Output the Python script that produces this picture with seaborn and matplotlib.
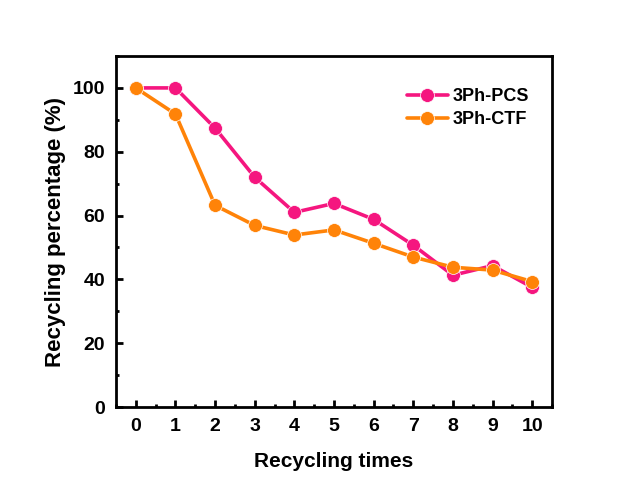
import pandas as pd
import matplotlib
matplotlib.use("Agg")
import matplotlib.pyplot as plt
import seaborn as sns
from matplotlib.ticker import MultipleLocator

# --- Data ---
cycles = [0, 1, 2, 3, 4, 5, 6, 7, 8, 9, 10]
pcs_values = [100, 100, 87.4, 72, 61, 63.8, 58.8, 50.7, 41.3, 44.3, 37.5]
ctf_values = [100, 91.8, 63.2, 56.9, 53.9, 55.5, 51.3, 47.0, 43.8, 42.9, 39.3]
series_names = ["3Ph-PCS", "3Ph-CTF"]
series_colors = ["#F5167F", "#FF8308"]

df = pd.concat([
    pd.DataFrame({"cycle": cycles, "value": pcs_values, "sample": series_names[0]}),
    pd.DataFrame({"cycle": cycles, "value": ctf_values, "sample": series_names[1]}),
])

# --- Style ---
sns.set_theme(style="ticks")
plt.rcParams['font.family'] = ['Liberation Sans', 'DejaVu Sans']
plt.rcParams['font.weight'] = 'bold'
plt.rcParams['axes.labelweight'] = 'bold'
plt.rcParams['text.color'] = 'black'
plt.rcParams['axes.labelcolor'] = 'black'
plt.rcParams['xtick.color'] = 'black'
plt.rcParams['ytick.color'] = 'black'

fig = plt.figure(figsize=(6.43, 4.92), dpi=100)
ax = fig.add_axes([116 / 643, 1 - 407 / 492, (552 - 116) / 643, (407 - 56) / 492])

sns.lineplot(data=df, x="cycle", y="value", hue="sample", palette=series_colors,
             marker="o", markersize=10, markeredgecolor="white", markeredgewidth=0.5,
             linewidth=2.6, dashes=False, ax=ax)

ax.set_xlim(-0.5, 10.5)
ax.set_ylim(0, 110)
ax.xaxis.set_major_locator(MultipleLocator(1))
ax.xaxis.set_minor_locator(MultipleLocator(0.5))
ax.yaxis.set_major_locator(MultipleLocator(20))
ax.yaxis.set_minor_locator(MultipleLocator(10))
ax.tick_params(which="major", direction="in", length=5, width=2, labelsize=14, pad=8)
ax.tick_params(which="minor", direction="in", length=2.5, width=2)
for s in ax.spines.values():
    s.set_linewidth(2)
    s.set_color("black")

ax.set_xlabel("Recycling times", fontsize=15, fontweight="bold", labelpad=12)
ax.set_ylabel("Recycling percentage (%)", fontsize=16, fontweight="bold", labelpad=5)

leg = ax.legend(frameon=False, loc="upper right", bbox_to_anchor=(0.985, 0.955),
                prop={"size": 13, "weight": "bold"}, handlelength=2.3,
                labelspacing=0.35, handletextpad=0.25)

fig.savefig("out.png", dpi=100)
